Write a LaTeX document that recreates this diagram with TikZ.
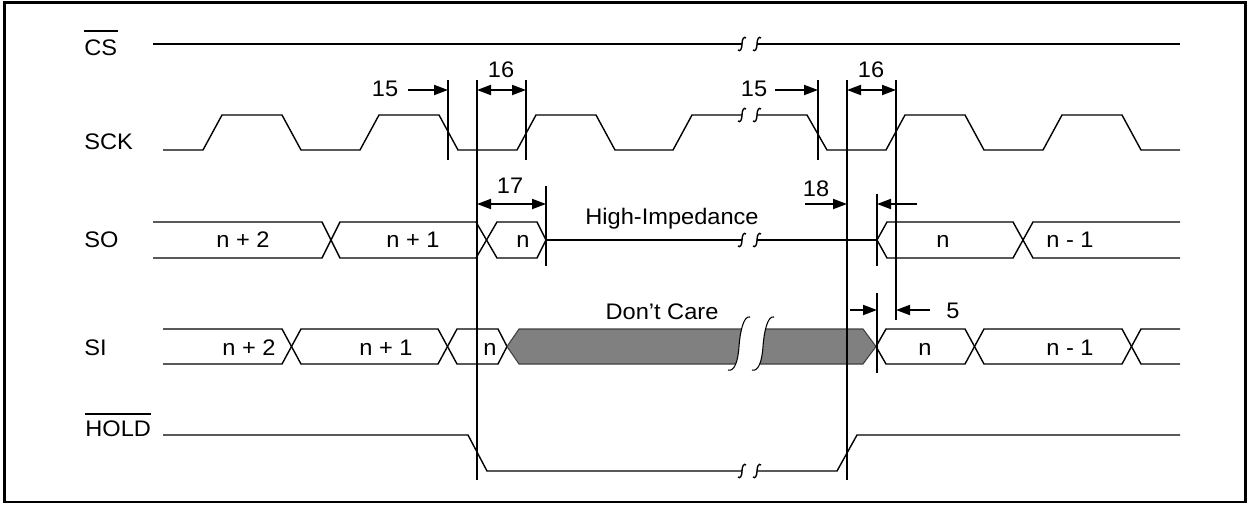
\documentclass[tikz,border=0pt]{standalone}
\usepackage{fontspec}
\setmainfont{Liberation Sans}[FakeStretch=1.05]
\usetikzlibrary{arrows.meta}
\tikzset{
  wave/.style={line width=0.8pt},
  markline/.style={line width=1.1pt},
  dimarrow/.style={line width=1.1pt,-{Triangle[length=2.8mm,width=2mm]}},
  dimboth/.style={line width=1.1pt,{Triangle[length=2.8mm,width=2mm]}-{Triangle[length=2.8mm,width=2mm]}},
  siglabel/.style={font=\fontsize{12.8}{14}\selectfont,inner sep=0pt,anchor=base west},
  vallabel/.style={font=\fontsize{12.8}{14}\selectfont,inner sep=0pt,anchor=base},
}
% two small integral-like strokes where a trace is cut
\newcommand{\cutmark}[2]{%
  \foreach \bx in {#1,#1+15}
    \draw[wave] (\bx-4,#2+6) .. controls (\bx-2,#2+8) and (\bx,#2+5) .. (\bx,#2)
      .. controls (\bx,#2-5) and (\bx+2,#2-8) .. (\bx+4,#2-6);
}
% big stroke across the grey bus
\newcommand{\bigcut}[1]{%
  \draw[line width=0.6pt] (#1-11,370) .. controls (#1-5,372) and (#1-1,362) .. (#1,346.5)
    .. controls (#1+1,331) and (#1+5,315) .. (#1+11,317);
}
\newcommand{\marker}[3]{\draw[markline] (#1,#2) -- (#1,#3);}

\begin{document}
\begin{tikzpicture}[x=0.02cm,y=-0.02cm]
  \useasboundingbox (0,0) rectangle (1251,504);
  \draw[line width=1.4pt] (4.5,2.5) rectangle (1245.5,502);

  % signal names
  \node[siglabel] (cs) at (84,55) {CS};
  \draw[line width=0.8pt] ([yshift=1.6mm]cs.north west) -- ([yshift=1.6mm]cs.north east);
  \node[siglabel] (sck) at (84,149) {SCK};
  \node[siglabel] (so) at (84,247.5) {SO};
  \node[siglabel] (si) at (84,355.5) {SI};
  \node[siglabel] (hold) at (85,436) {HOLD};
  \draw[line width=0.8pt] ([yshift=1.2mm]hold.north west) -- ([yshift=1.2mm]hold.north east);

  % CS
  \draw[line width=1.1pt] (153,44) -- (742,44);
  \draw[line width=1.1pt] (757,44) -- (1180,44);
  \cutmark{742}{44}

  % SCK
  \draw[wave] (163,150) foreach \r in {203,360,517} { -- (\r,150) -- (\r+19,115) -- (\r+79,115) -- (\r+98,150) }
    -- (673,150) -- (692,115) -- (742,115);
  \draw[wave] (757,115) -- (807,115) -- (827,150) foreach \r in {886,1043} { -- (\r,150) -- (\r+19,115) -- (\r+79,115) -- (\r+98,150) }
    -- (1180,150);
  \cutmark{742}{115}

  % SO
  \draw[wave] (153,222) -- (322,222) -- (340,258) -- (476,258) -- (497,222) -- (537,222) -- (546,240);
  \draw[wave] (153,258) -- (322,258) -- (340,222) -- (476,222) -- (497,258) -- (537,258) -- (546,240);
  \draw[wave] (546,240) -- (742,240);
  \draw[wave] (757,240) -- (877,240);
  \cutmark{742}{240}
  \draw[wave] (877,240) -- (887,222) -- (1013,222) -- (1033,258) -- (1180,258);
  \draw[wave] (877,240) -- (887,258) -- (1013,258) -- (1033,222) -- (1180,222);

  % SI
  \draw[wave] (163,329) -- (282,329) -- (301,364) -- (438,364) -- (457,329) -- (498,329) -- (507,346.5);
  \draw[wave] (163,364) -- (282,364) -- (301,329) -- (438,329) -- (457,364) -- (498,364) -- (507,346.5);
  \filldraw[fill=black!50,draw=black!75,line width=0.6pt]
    (507,346.5) -- (519,329) -- (863,329) -- (876,346.5) -- (863,364) -- (519,364) -- cycle;
  \fill[white] (728,370) .. controls (734,372) and (738,362) .. (739,346.5)
    .. controls (740,331) and (744,315) .. (750,317)
    -- (774,317) .. controls (768,315) and (764,331) .. (763,346.5)
    .. controls (762,362) and (758,372) .. (752,370) -- cycle;
  \bigcut{739}
  \bigcut{763}
  \draw[wave] (876,346.5) -- (886,329) -- (965,329) -- (984,364) -- (1122,364) -- (1141,329) -- (1180,329);
  \draw[wave] (876,346.5) -- (886,364) -- (965,364) -- (984,329) -- (1122,329) -- (1141,364) -- (1180,364);

  % HOLD
  \draw[wave] (163,435) -- (468,435) -- (487,471) -- (742,471);
  \draw[wave] (757,471) -- (837,471) -- (857,435) -- (1180,435);
  \cutmark{742}{471}

  % bus values
  \node[vallabel] (so2) at (243,247.5) {n + 2};
  \node[vallabel] (so1) at (413,247.5) {n + 1};
  \node[vallabel] (son) at (523,247.5) {n};
  \node[vallabel] (sonb) at (943,247.5) {n};
  \node[vallabel] (som) at (1070,247.5) {n - 1};
  \node[vallabel] (si2) at (249,355.5) {n + 2};
  \node[vallabel] (si1) at (386,355.5) {n + 1};
  \node[vallabel] (sin) at (490,355.5) {n};
  \node[vallabel] (sinb) at (925,355.5) {n};
  \node[vallabel] (sim) at (1070,355.5) {n - 1};
  \node[vallabel] (hiz) at (672,224) {High-Impedance};
  \node[vallabel] (dc) at (662,319) {Don’t Care};

  % timing markers
  \marker{448}{80}{160}
  \marker{477}{80}{480}
  \marker{526}{80}{160}
  \marker{546}{186}{266}
  \marker{818}{80}{160}
  \marker{847}{80}{480}
  \marker{896}{80}{320}
  \marker{877}{194}{266}
  \marker{877}{293}{373}

  % timing parameters
  \node[vallabel] (t15a) at (385,96.5) {15};
  \draw[dimarrow] (408,90) -- (448,90);
  \node[vallabel] (t16a) at (501,77) {16};
  \draw[dimboth] (477,90) -- (526,90);
  \node[vallabel] (t17) at (510,193) {17};
  \draw[dimboth] (477,204) -- (546,204);
  \node[vallabel] (t15b) at (754,96.5) {15};
  \draw[dimarrow] (775,90) -- (818,90);
  \node[vallabel] (t16b) at (871,77) {16};
  \draw[dimboth] (847,90) -- (896,90);
  \node[vallabel] (t18) at (816,196) {18};
  \draw[dimarrow] (805,204) -- (847,204);
  \draw[dimarrow] (917,204) -- (877,204);
  \draw[dimarrow] (850,310) -- (877,310);
  \draw[dimarrow] (930,310) -- (896,310);
  \node[vallabel] (t5) at (953,318) {5};
\end{tikzpicture}
\end{document}
